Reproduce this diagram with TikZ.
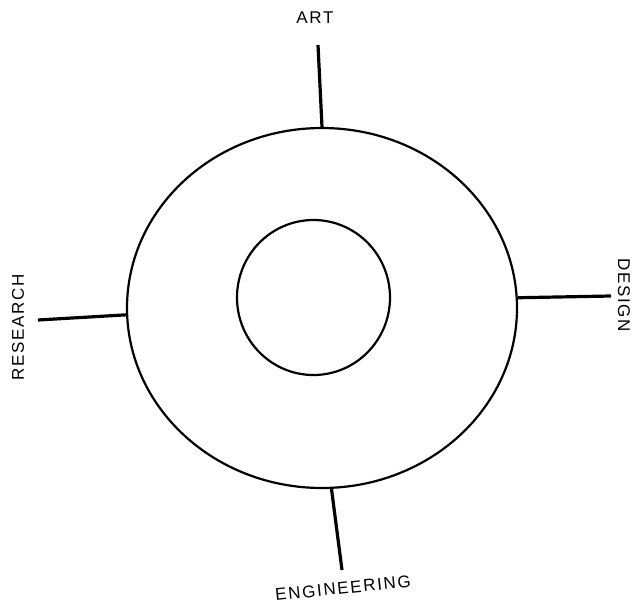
\documentclass[tikz,border=0pt]{standalone}
\usepackage{fontspec}
\setmainfont{Liberation Sans}[LetterSpace=10]
\usetikzlibrary{shapes.geometric}
\begin{document}
\begin{tikzpicture}[x=1pt,y=-1pt,
  ring/.style={draw,ellipse,line width=2.2pt,inner sep=0pt},
  spoke/.style={line width=3.2pt},
  lab/.style={font=\fontsize{17}{17}\selectfont,inner sep=0pt}]
\useasboundingbox[fill=white] (0,0) rectangle (635,606);
\node[ring,minimum width=390pt,minimum height=360pt] (outer) at (322,308) {};
\node[ring,minimum width=153pt,minimum height=155pt] (inner) at (313.5,297.5) {};
\coordinate (topend) at (318,45);
\coordinate (rightend) at (611,296);
\coordinate (leftend) at (38,320);
\coordinate (botend) at (342,570);
\draw[spoke] (outer.north) -- (topend);
\draw[spoke] (outer.3) -- (rightend);
\draw[spoke] (outer.182) -- (leftend);
\draw[spoke] (outer.273) -- (botend);
\node[lab] (art) at (315,18) {ART};
\node[lab,rotate=-90] (design) at (624,295) {DESIGN};
\node[lab,rotate=90] (research) at (18,327) {RESEARCH};
\node[lab,rotate=6] (eng) at (343,588) {ENGINEERING};
\end{tikzpicture}
\end{document}
